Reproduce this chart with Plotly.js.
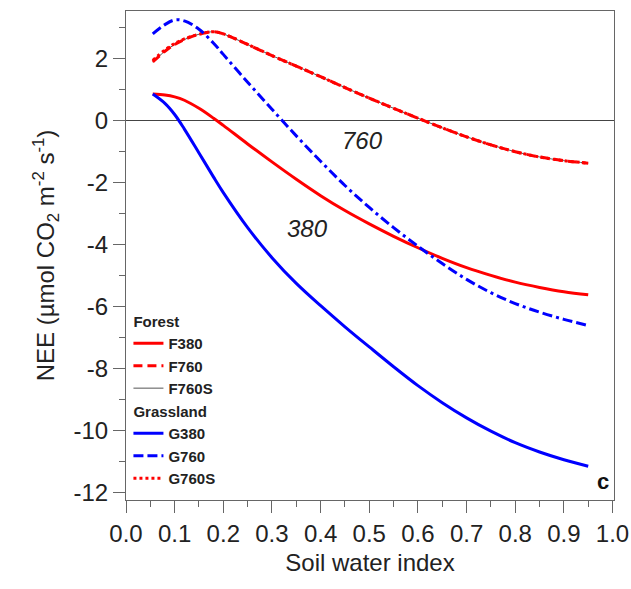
<!DOCTYPE html>
<html>
<head>
<meta charset="utf-8">
<script src="https://cdn.plot.ly/plotly-3.0.1.min.js"></script>
<style>html,body{margin:0;padding:0;background:#fff;}#chart{width:631px;height:589px;}</style>
</head>
<body>
<div id="chart"></div>
<script>
// Soil water index (x) shared by all curves
const swi = [0.055, 0.08, 0.10, 0.12, 0.15, 0.18, 0.20, 0.25, 0.30, 0.35, 0.40, 0.45, 0.50, 0.55, 0.60, 0.65, 0.70, 0.75, 0.80, 0.85, 0.90, 0.95];

// NEE values (µmol CO2 m-2 s-1)
const F380  = [0.86, 0.83, 0.77, 0.66, 0.40, 0.08, -0.15, -0.75, -1.33, -1.89, -2.42, -2.90, -3.33, -3.73, -4.10, -4.44, -4.74, -4.99, -5.21, -5.38, -5.52, -5.62];
const F760  = [1.90, 2.24, 2.46, 2.62, 2.79, 2.87, 2.80, 2.46, 2.10, 1.76, 1.42, 1.07, 0.73, 0.40, 0.08, -0.23, -0.52, -0.78, -1.00, -1.17, -1.29, -1.37];
const F760S = [1.90, 2.24, 2.46, 2.62, 2.79, 2.87, 2.80, 2.46, 2.10, 1.76, 1.42, 1.07, 0.73, 0.40, 0.08, -0.23, -0.52, -0.78, -1.00, -1.17, -1.29, -1.37];
const G380  = [0.86, 0.56, 0.20, -0.27, -1.04, -1.82, -2.32, -3.45, -4.42, -5.25, -5.97, -6.65, -7.30, -7.94, -8.55, -9.10, -9.59, -10.02, -10.39, -10.69, -10.94, -11.15];
const G760  = [2.80, 3.10, 3.25, 3.22, 2.95, 2.50, 2.14, 1.24, 0.37, -0.49, -1.31, -2.09, -2.80, -3.45, -4.05, -4.61, -5.12, -5.55, -5.90, -6.18, -6.41, -6.61];
const G760S = [1.95, 2.28, 2.49, 2.64, 2.79, 2.87, 2.80, 2.46, 2.10, 1.76, 1.42, 1.07, 0.73, 0.40, 0.08, -0.23, -0.52, -0.78, -1.00, -1.17, -1.29, -1.37];

const xTicks = [0.0, 0.1, 0.2, 0.3, 0.4, 0.5, 0.6, 0.7, 0.8, 0.9, 1.0];
const xTickText = ['0.0', '0.1', '0.2', '0.3', '0.4', '0.5', '0.6', '0.7', '0.8', '0.9', '1.0'];
const yTicks = [2, 0, -2, -4, -6, -8, -10, -12];
const yTickText = ['2', '0', '-2', '-4', '-6', '-8', '-10', '-12'];

const RED = 'rgb(255,0,0)';
const BLUE = 'rgb(0,0,255)';
const FONT = 'Liberation Sans, Arial, sans-serif';
const legFont = {family: FONT, size: 15, color: '#222', weight: 'bold'};

function tr(y, name, group, rank, title, line) {
  return {x: swi, y: y, name: name, mode: 'lines', legendgroup: group, legendrank: rank,
          legendgrouptitle: {text: title, font: legFont},
          line: Object.assign({shape: 'spline', smoothing: 1}, line)};
}

const traces = [
  tr(F760S, 'F760S', 'forest', 3, 'Forest', {color: '#555', width: 1}),
  tr(G760S, 'G760S', 'grass', 6, 'Grassland', {color: RED, width: 3, dash: '3px,3px'}),
  tr(F380, 'F380', 'forest', 1, 'Forest', {color: RED, width: 3}),
  tr(F760, 'F760', 'forest', 2, 'Forest', {color: RED, width: 3, dash: '9px,5px'}),
  tr(G380, 'G380', 'grass', 4, 'Grassland', {color: BLUE, width: 3}),
  tr(G760, 'G760', 'grass', 5, 'Grassland', {color: BLUE, width: 3, dash: '10px,4px,10px,4px,3px,4px'})
];

const tickFont = {family: FONT, size: 24, color: '#222'};
const axColor = '#666';

const layout = {
  width: 631, height: 589,
  margin: {l: 126, r: 17, t: 11, b: 89, pad: 0},
  paper_bgcolor: '#fff', plot_bgcolor: '#fff',
  showlegend: true,
  legend: {
    x: 0.005, y: 0.4, xanchor: 'left', yanchor: 'top',
    bgcolor: 'rgba(0,0,0,0)', borderwidth: 0,
    font: legFont, traceorder: 'grouped', tracegroupgap: 0,
    itemwidth: 30
  },
  xaxis: {
    range: [0, 1.003], tickvals: xTicks, ticktext: xTickText,
    ticks: 'outside', ticklen: 12, tickwidth: 1, tickcolor: axColor,
    minor: {dtick: 0.05, tick0: 0, ticks: 'outside', ticklen: 6, tickcolor: axColor, showgrid: false},
    showline: true, linecolor: axColor, linewidth: 1, mirror: true,
    showgrid: false, zeroline: false,
    tickfont: tickFont,
    title: {text: 'Soil water index', font: tickFont, standoff: 8}
  },
  yaxis: {
    range: [-12.24, 3.54], tickvals: yTicks, ticktext: yTickText,
    ticks: 'outside', ticklen: 12, tickwidth: 1, tickcolor: axColor,
    minor: {dtick: 1, tick0: 0, ticks: 'outside', ticklen: 6, tickcolor: axColor, showgrid: false},
    showline: true, linecolor: axColor, linewidth: 1, mirror: true,
    showgrid: false, zeroline: true, zerolinecolor: '#444', zerolinewidth: 1,
    tickfont: tickFont,
    title: {text: 'NEE (µmol CO<sub>2</sub> m<sup>-2</sup> s<sup>-1</sup>)', font: tickFont, standoff: 12}
  },
  annotations: [
    {x: 0.487, y: -0.65, xref: 'x', yref: 'y', text: '<i>760</i>', showarrow: false,
     font: {family: FONT, size: 24, color: '#222'}},
    {x: 0.373, y: -3.48, xref: 'x', yref: 'y', text: '<i>380</i>', showarrow: false,
     font: {family: FONT, size: 24, color: '#222'}},
    {x: 0.98, y: -11.64, xref: 'x', yref: 'y', text: '<b>c</b>', showarrow: false,
     font: {family: FONT, size: 22, color: '#111'}}
  ]
};

Plotly.newPlot('chart', traces, layout, {displayModeBar: false, staticPlot: true});
</script>
</body>
</html>
